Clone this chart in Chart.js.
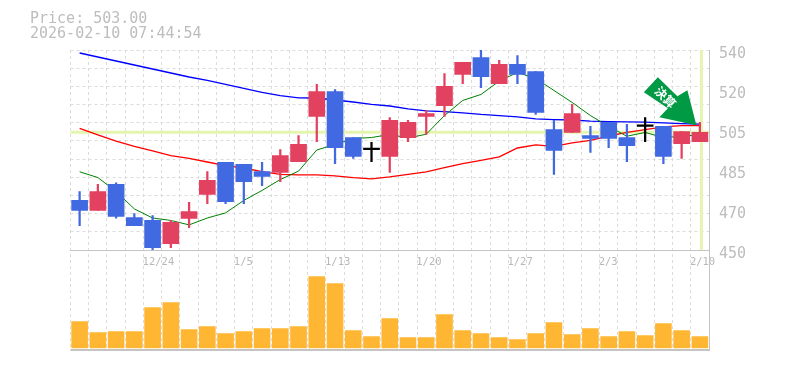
<!DOCTYPE html>
<html>
<head>
<meta charset="utf-8">
<script src="https://cdn.jsdelivr.net/npm/chart.js@4"></script>
<style>
  body { margin: 0; background: #fff; }
  #wrap { position: relative; width: 785px; height: 370px; }
  #info { position: absolute; left: 30px; top: 11px; font: 15px/15px "DejaVu Sans Mono", monospace; color: #bdbdbd; white-space: pre; }
  canvas { display: block; }
</style>
</head>
<body>
<div id="wrap">
  <div id="info">Price: 503.00
2026-02-10 07:44:54</div>
  <canvas id="stockChart" width="785" height="370"></canvas>
</div>
<script>
const days = ['12/18','12/19','12/22','12/23','12/24','12/25','12/26','12/29','12/30','1/5','1/6','1/7','1/8','1/9','1/13','1/14','1/15','1/16','1/19','1/20','1/21','1/22','1/23','1/26','1/27','1/28','1/29','1/30','2/2','2/3','2/4','2/5','2/6','2/9','2/10'];
const shownDays = ['12/24','1/5','1/13','1/20','1/27','2/3','2/10'];

const opens  = [472.3,467.8,479.5,464.6,463.3,452.9,464.2,475,489.4,488.5,485.3,484.9,489.8,510.1,521.3,500.6,495.2,492.1,500.6,510.1,515,529,536.6,524.9,533.5,530.3,504.2,502.9,501.5,507.4,500.6,505.6,505.6,497.9,498.8];
const closes = [467.8,476.3,465.1,461,451.1,462.4,467.3,481.3,471.8,480.8,483.1,492.5,497.5,521.3,496.1,492.1,495.2,508.3,507.4,511.4,523.6,534.4,528,533.5,529,511.9,494.8,511.4,500.2,500.2,497,505.6,492.1,503.3,503];
const highs  = [476.3,479.5,480.2,466.4,465.5,463.3,471.4,485.3,489.4,488.5,489.4,495.2,501.5,524.5,522.2,500.6,498.4,509.6,508.3,512.8,529.4,534.4,540,535.3,537.5,530.3,508.3,515.5,505.6,507.4,506.5,509.6,505.6,503.3,507.4];
const lows   = [461,467.8,464.3,461,450,451.1,460.1,470.9,470.9,470.9,479,480.8,489.8,498.8,488.9,491.2,489.8,484.9,498.8,502,510.1,524.9,523.1,524.9,524.9,511,484,502.9,493.9,496.1,489.8,498.8,488.9,491.2,498.8];
const volumes = [26.5,15.5,16.5,16.5,40.5,45.5,18.5,21.5,14.5,16.5,19.5,19.5,21.5,71.5,64.5,17.5,11.5,29.5,10.5,10.5,33.5,17.5,14.5,10.5,8.5,14.5,25.5,13.5,19.5,11.5,16.5,12.5,24.5,17.5,11.5];

const maShort = [485.2,482.6,476.3,468.5,464.4,463.3,461.3,464.4,466.7,472.3,476.8,481.7,485.5,495,497.5,500.2,500.6,502,500.4,502.1,510.5,517.3,520,526,529.9,527.2,521.8,516.4,510.5,505.6,501.2,502.9,500.6,501.1,502];
const maMid   = [504.7,501.8,499,496.6,494.6,492.5,491.2,489.6,488,486.9,485.3,484,483.8,483.8,483.4,482.6,482,482.9,484,485.2,487.1,488.9,490.3,491.9,495.9,497.3,496.6,498.2,499.3,501.3,502.9,504.2,505.4,506,506];
const maLong  = [538.65,536.85,535.05,533.25,531.45,529.65,527.85,526.3,524.5,522.7,520.9,519.5,518.5,518.4,517.5,516.6,515.5,514.8,513.5,512.6,512.3,511.7,511,510.5,509.9,509,508.7,508.5,508,507.8,507.7,507.5,507.2,506.9,506.6];

const lastPrice = 503;
const priceMin = 450, priceMax = 540;
const labelAt = [450,468,486,504,522,540];
const labelText = ['450','470','485','505','520','540'];
const gridRows = 11;

const upColor = '#e24160', downColor = '#4169e1', dojiColor = '#000';
const candleColor = (i) => closes[i] > opens[i] ? upColor : closes[i] < opens[i] ? downColor : dojiColor;
const candleColors = days.map((d, i) => candleColor(i));
const axisGrey = '#c4c4c4';

// last price cross and the green arrow
const markers = {
  id: 'markers',
  beforeDatasetsDraw(chart) {
    const { ctx, chartArea, scales } = chart;
    const py = scales.y.getPixelForValue(lastPrice);
    const px = scales.x.getPixelForValue(days.length - 1);
    ctx.save();
    ctx.fillStyle = '#e5f4ae';
    ctx.fillRect(chartArea.left, py - 1.5, chartArea.width, 3);
    ctx.fillRect(px, scales.y.top, 3, scales.y.height);
    ctx.restore();
  },
  afterDatasetsDraw(chart) {
    const { ctx, scales } = chart;
    const tipX = scales.x.getPixelForValue(days.length - 1) - 3.5;
    const tipY = scales.y.getPixelForValue(lastPrice) - 7;
    const shape = [[0,0],[-37,-8],[-28.5,-17],[-52.5,-33],[-38.5,-48],[-19,-29],[-9,-35]];
    ctx.save();
    ctx.fillStyle = '#009944';
    ctx.beginPath();
    shape.forEach((p, i) => i ? ctx.lineTo(tipX + p[0], tipY + p[1]) : ctx.moveTo(tipX + p[0], tipY + p[1]));
    ctx.closePath();
    ctx.fill();
    ctx.translate(tipX - 31, tipY - 28);
    ctx.rotate(Math.PI / 4);
    ctx.fillStyle = '#fff';
    ctx.font = 'bold 12px "Noto Sans CJK JP"';
    ctx.textAlign = 'center';
    ctx.textBaseline = 'middle';
    ctx.fillText('決算', 0, 0);
    ctx.restore();
  }
};

new Chart(document.getElementById('stockChart').getContext('2d'), {
  data: {
    labels: days,
    datasets: [
      { type: 'bar', label: 'Body', yAxisID: 'y', order: 1, data: days.map((d, i) => [opens[i], closes[i]]), backgroundColor: candleColors, barThickness: 16, minBarLength: 1.5, grouped: false },
      { type: 'bar', label: 'Wick', yAxisID: 'y', order: 2, data: days.map((d, i) => [lows[i], highs[i]]), backgroundColor: candleColors, barThickness: 1.6, grouped: false },
      { type: 'bar', label: 'Volume', yAxisID: 'yVol', order: 2, data: volumes, backgroundColor: '#ffb733', barThickness: 16, grouped: false },
      { type: 'line', label: 'MA short', yAxisID: 'y', order: 3, data: maShort, borderColor: '#008000', borderWidth: 1, pointRadius: 0, tension: 0 },
      { type: 'line', label: 'MA mid', yAxisID: 'y', order: 4, data: maMid, borderColor: '#ff0000', borderWidth: 1.3, pointRadius: 0, tension: 0 },
      { type: 'line', label: 'MA long', yAxisID: 'y', order: 5, data: maLong, borderColor: '#0000ff', borderWidth: 1.3, pointRadius: 0, tension: 0 }
    ]
  },
  options: {
    responsive: false,
    animation: false,
    layout: { padding: { left: 70.5, top: 50, bottom: 20, right: 0 } },
    plugins: { legend: { display: false }, tooltip: { enabled: false } },
    scales: {
      x: {
        type: 'category',
        position: { y: priceMin },
        offset: true,
        grid: { color: '#dcdcdc', offset: true, drawTicks: false },
        border: { color: axisGrey, dash: [3, 3] },
        ticks: {
          autoSkip: false,
          maxRotation: 0,
          align: 'start',
          labelOffset: -10,
          padding: 6,
          color: '#b8b8b8',
          font: { family: '"DejaVu Sans Mono"', size: 10.5 },
          callback(value) {
            const day = this.getLabelForValue(value);
            return shownDays.includes(day) ? day : '';
          }
        }
      },
      y: {
        position: 'right',
        stack: 'panels',
        stackWeight: 2,
        min: priceMin,
        max: priceMax,
        afterFit(scale) { scale.width = 76; },
        afterBuildTicks(scale) {
          const ticks = labelAt.map((v, i) => ({ value: v, text: labelText[i], isGrid: false }));
          for (let r = 0; r <= gridRows; r++) {
            const value = priceMin + r * (priceMax - priceMin) / gridRows;
            const hit = ticks.find(t => t.value === value);
            if (hit) hit.isGrid = true;
            else ticks.push({ value, text: '', isGrid: true });
          }
          scale.ticks = ticks.sort((a, b) => a.value - b.value);
        },
        grid: {
          drawTicks: false,
          color: (c) => c.tick && c.tick.isGrid ? '#dcdcdc' : 'transparent'
        },
        border: { color: axisGrey, dash: [3, 3] },
        ticks: {
          autoSkip: false,
          padding: 10,
          labelOffset: 4,
          color: '#bdbdbd',
          font: { family: '"DejaVu Sans Mono"', size: 15 },
          callback(value, i, ticks) { return ticks[i].text; }
        }
      },
      yVol: {
        position: 'right',
        stack: 'panels',
        stackWeight: 1,
        min: -2,
        max: 98,
        afterFit(scale) { scale.width = 76; },
        afterBuildTicks(scale) { scale.ticks = [{ value: -2 }]; },
        grid: { drawTicks: false, color: axisGrey, lineWidth: 2 },
        border: { color: axisGrey },
        ticks: { display: false }
      }
    }
  },
  plugins: [markers]
});
</script>
</body>
</html>
